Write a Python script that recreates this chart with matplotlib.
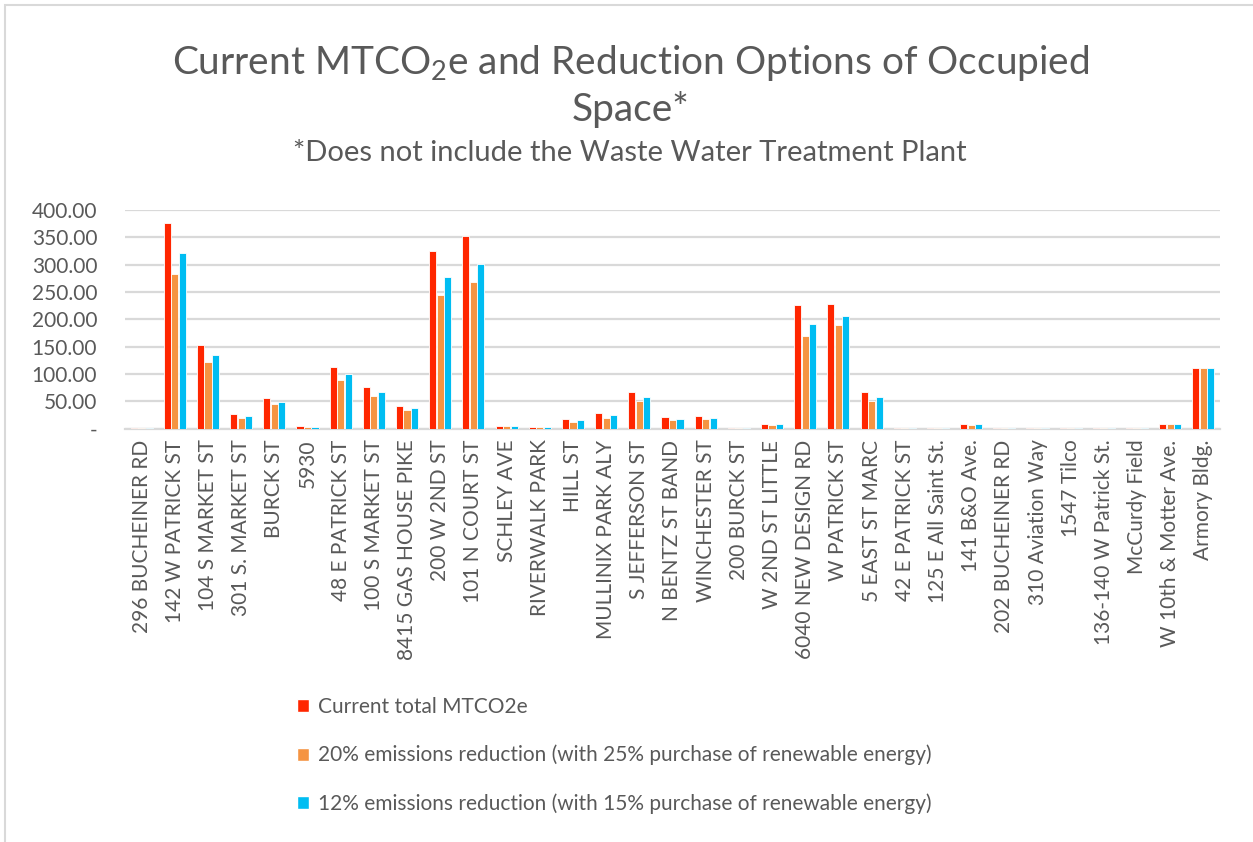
import matplotlib
matplotlib.use("Agg")
import matplotlib.pyplot as plt
from matplotlib.patches import Rectangle, Patch
import numpy as np

plt.rcParams['font.family'] = ['Lato', 'DejaVu Sans']
plt.rcParams['mathtext.fontset'] = 'custom'
plt.rcParams['mathtext.rm'] = 'Lato'

sites = [
    "296 BUCHEINER RD", "142 W PATRICK ST", "104 S MARKET ST", "301 S. MARKET ST",
    "BURCK ST", "5930", "48 E PATRICK ST", "100 S MARKET ST", "8415 GAS HOUSE PIKE",
    "200 W 2ND ST", "101 N COURT ST", "SCHLEY AVE", "RIVERWALK PARK", "HILL ST",
    "MULLINIX PARK ALY", "S JEFFERSON ST", "N BENTZ ST BAND", "WINCHESTER ST",
    "200 BURCK ST", "W 2ND ST LITTLE", "6040 NEW DESIGN RD", "W PATRICK ST",
    "5 EAST ST MARC", "42 E PATRICK ST", "125 E All Saint St.", "141 B&O Ave.",
    "202 BUCHEINER RD", "310 Aviation Way", "1547 Tilco", "136-140 W Patrick St.",
    "McCurdy Field", "W 10th & Motter Ave.", "Armory Bldg.",
]

current_total = [1.5, 377, 152, 26, 55, 4, 113.5, 75.5, 40.5, 324.5, 351.5, 5, 3, 17,
                 29, 67, 21, 23, 0.5, 9, 226, 228, 67, 0.8, 1.0, 8, 1.5, 1.5,
                 0.4, 0.4, 0.4, 8.5, 110]
reduction_20 = [1.2, 282, 121, 20, 44, 3, 89, 60, 33.5, 243.5, 268, 4, 2, 12,
                20, 50, 16, 17, 0.4, 6, 169, 190, 50, 0.6, 0.8, 7, 1.2, 1.2,
                0.3, 0.3, 0.3, 8, 110]
reduction_12 = [1.3, 321, 134, 23, 49, 3.5, 99, 66, 37, 277, 301, 5, 2, 15,
                24, 57, 18, 20, 0.4, 8, 191, 205.5, 57, 0.7, 0.9, 8, 1.3, 1.3,
                0.35, 0.35, 0.35, 8, 110]

series_labels = [
    "Current total MTCO2e",
    "20% emissions reduction (with 25% purchase of renewable energy)",
    "12% emissions reduction (with 15% purchase of renewable energy)",
]
series_colors = ["#FF2600", "#F59442", "#00BDF2"]
y_ticks = [0, 50, 100, 150, 200, 250, 300, 350, 400]

text_gray = "#595959"
grid_gray = "#D9D9D9"

W, H = 1253, 842
fig = plt.figure(figsize=(W / 100, H / 100), dpi=100)

# outer frame
fig.patches.append(Rectangle((5 / W, -0.05), 1.2, 1.05 - 5 / H, transform=fig.transFigure,
                             fill=False, edgecolor="#D9D9D9", linewidth=1.5, zorder=0))

ax = fig.add_axes([125 / W, 1 - 428.5 / H, (1220 - 125) / W, (428.5 - 210) / H])
x = np.arange(len(sites))
offset = 0.226
width = 0.215
for i, (vals, col, lab) in enumerate(zip([current_total, reduction_20, reduction_12],
                                          series_colors, series_labels)):
    ax.bar(x + (i - 1) * offset, vals, width=width, color=col, edgecolor="white",
           linewidth=0.6, label=lab, zorder=3)

ax.set_xlim(-0.5, len(sites) - 0.5)
ax.set_ylim(0, 400)
ax.set_yticks(y_ticks)
ax.set_yticklabels(["-" if v == 0 else f"{v:.2f}" for v in y_ticks])
ax.set_xticks(x)
ax.set_xticklabels(sites, rotation=90, ha="center", va="top")
ax.grid(axis="y", color=grid_gray, linewidth=1.6, zorder=0)
for s in ["top", "right", "left"]:
    ax.spines[s].set_visible(False)
ax.spines["bottom"].set_color(grid_gray)
ax.spines["bottom"].set_linewidth(1.6)
ax.tick_params(axis="both", length=0, labelsize=15, colors=text_gray)
ax.tick_params(axis="y", pad=20)
ax.tick_params(axis="x", pad=8)

fig.text(0.503, 1 - 63 / H, "Current MTCO$_\\mathregular{2}$e and Reduction Options of Occupied",
         ha="center", va="center", fontsize=28, color=text_gray)
fig.text(0.503, 1 - 110 / H, "Space*", ha="center", va="center", fontsize=28, color=text_gray)
fig.text(0.503, 1 - 153 / H, "*Does not include the Waste Water Treatment Plant",
         ha="center", va="center", fontsize=21, color=text_gray)

handles = [Patch(facecolor=c, edgecolor="white") for c in series_colors]
leg = fig.legend(handles, series_labels, loc="upper left",
                 bbox_to_anchor=(278 / W, 1 - 678 / H), frameon=False, fontsize=15,
                 handlelength=0.6, handleheight=0.6, handletextpad=0.4, labelspacing=1.35)
for t in leg.get_texts():
    t.set_color(text_gray)

fig.savefig("out.png", dpi=100, facecolor="white")
